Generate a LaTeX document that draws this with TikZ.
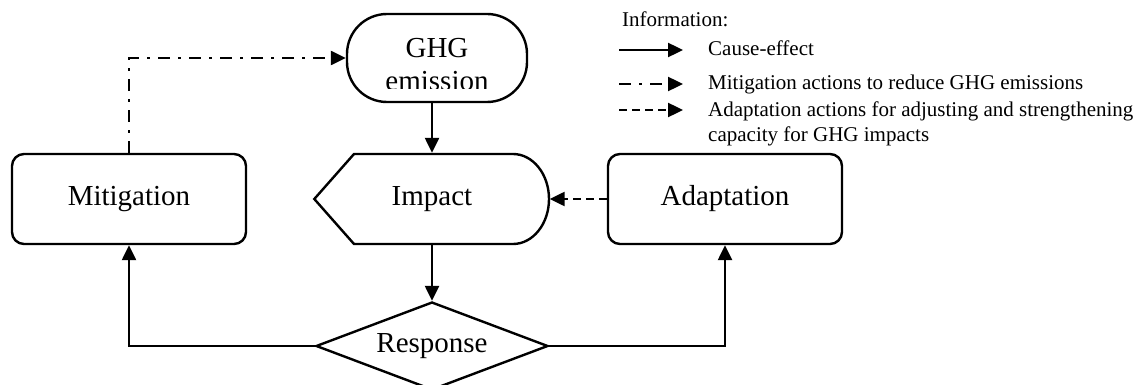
\documentclass[tikz,border=0pt]{standalone}
\usepackage{fontspec}
\setmainfont{Liberation Serif}
\usetikzlibrary{arrows.meta,shapes.geometric}

\begin{document}
\begin{tikzpicture}[x=0.5pt,y=-0.5pt,line width=1.2pt,
                    >={Triangle[length=7.5pt,width=7pt]},
                    font=\fontsize{14.5}{16.5}\selectfont]
  \tikzstyle{box}=[draw,rounded corners=6pt,minimum width=117pt,minimum height=45pt]
  \tikzstyle{mitig}=[dash pattern=on 6pt off 4pt on 1.5pt off 4pt]
  \tikzstyle{adapt}=[dash pattern=on 4pt off 2.5pt]
  \tikzstyle{legend}=[font=\fontsize{10.5}{12.5}\selectfont,anchor=base west,
                      inner sep=0pt,align=left]

  \useasboundingbox (0,0) rectangle (1145,385);

  \node[box]  (mitigation) at (129,199) {Mitigation};
  \node[minimum width=116.5pt,minimum height=45pt] (impact) at (432,199) {Impact};
  \node[box]  (adaptation) at (725,199) {Adaptation};
  \node[draw,rounded corners=20pt,minimum width=90pt,minimum height=44pt]
              (ghg) at (437,58) {};
  \node[draw,diamond,aspect=2.6,inner sep=0pt,minimum width=116pt,
        minimum height=44pt] (response) at (432,346) {Response};

  % the impact shape
  \draw (impact.west) -- (354,154) -- (513,154)
        arc[start angle=-90,end angle=90,x radius=36,y radius=45]
        -- (354,244) -- cycle;

  % label of ghg, cut at the bottom
  \begin{scope}
    \clip (340,14) rectangle (535,89);
    \node[align=center] (ghglabel) at (437,65) {GHG\\emission};
  \end{scope}

  \draw[->] (impact.north |- ghg.south) -- (impact.north);
  \draw[->] (impact.south) -- (response.north);
  \draw[->] (response.west) -| (mitigation.south);
  \draw[->] (response.east) -| (adaptation.south);
  \draw[->,adapt] (adaptation.west) -- (impact.east);
  \draw[->,mitig] (mitigation.north) |- (ghg.west);

  % legend
  \node[legend] (info) at (621,27) {Information:};
  \coordinate (causeA) at (619,50);
  \coordinate (causeB) at (683,50);
  \coordinate (mitigA) at (619,84);
  \coordinate (mitigB) at (683,84);
  \coordinate (adaptA) at (619,110);
  \coordinate (adaptB) at (683,110);
  \draw[->] (causeA) -- (causeB);
  \draw[->,mitig] (mitigA) -- (mitigB);
  \draw[->,adapt] (adaptA) -- (adaptB);
  \node[legend] (cause) at (707,56) {Cause-effect};
  \node[legend] (mitigtext) at (707,90) {Mitigation actions to reduce GHG emissions};
  \node[legend] (adapttext) at (707,141)
        {Adaptation actions for adjusting and strengthening\\capacity for GHG impacts};
\end{tikzpicture}
\end{document}
